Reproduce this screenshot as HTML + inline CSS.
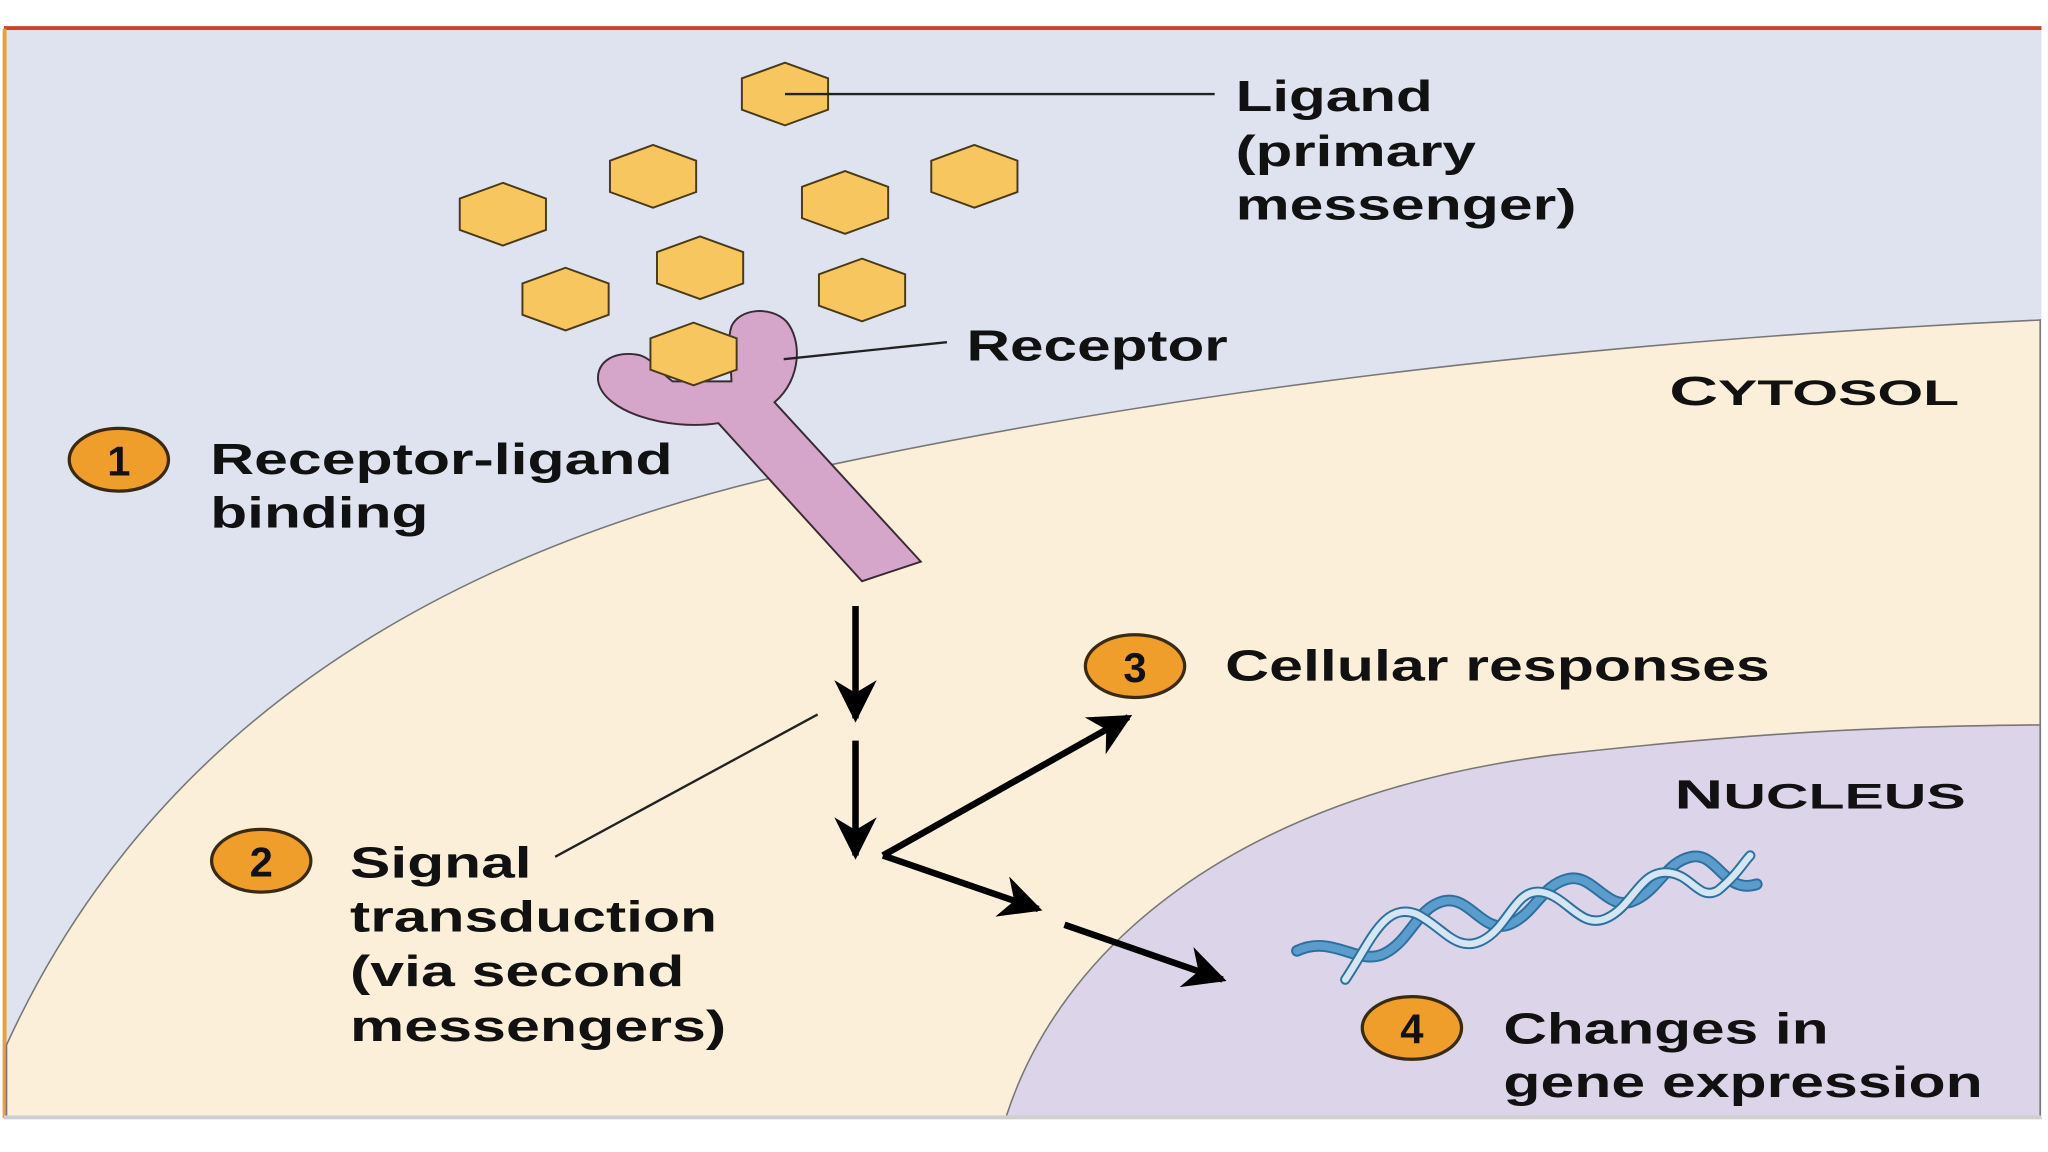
<!DOCTYPE html>
<html><head><meta charset="utf-8"><style>
html,body{margin:0;padding:0;background:#fff;}
svg{display:block;}
text{font-family:"Liberation Sans",Arial,sans-serif;font-weight:bold;fill:#111;}
</style></head><body>
<svg width="2048" height="1152" viewBox="0 0 1568 882" preserveAspectRatio="none" xmlns="http://www.w3.org/2000/svg">
<defs>
<marker id="ah" viewBox="0 0 10 10" refX="9" refY="5" markerWidth="6.5" markerHeight="6.5" orient="auto" markerUnits="strokeWidth">
<path d="M0,0 L10,5 L0,10 L3,5 z" fill="#000"/></marker>
<polygon id="hx" points="0,-24 33,-12 33,12 0,24 -33,12 -33,-12" fill="#f7c65e" stroke="#4a3a1a" stroke-width="1.5"/>
</defs>
<rect x="0" y="0" width="1568" height="882" fill="#fff"/>
<rect x="3" y="22" width="1560" height="834" fill="#dfe3f0"/>
<rect x="3" y="20" width="1560" height="3" fill="#c8442a"/>
<rect x="2" y="22" width="3" height="834" fill="#e6a23c"/>
<!-- cytosol -->
<path d="M5,800 C110,570 320,420 640,355 C900,300 1200,262 1562,245 L1562,856 L5,856 Z" fill="#fcefd9" stroke="#777" stroke-width="1.2"/>
<!-- nucleus -->
<path d="M770,856 C810,730 940,610 1190,578 C1350,560 1450,556 1562,555 L1562,856 Z" fill="#dcd4e8" stroke="#777" stroke-width="1.2"/>
<rect x="3" y="854" width="1560" height="3" fill="#cfcfcf"/>
<!-- hexagons -->
<use href="#hx" x="601" y="72"/>
<use href="#hx" x="500" y="135"/>
<use href="#hx" x="385" y="164"/>
<use href="#hx" x="647" y="155"/>
<use href="#hx" x="746" y="135"/>
<use href="#hx" x="536" y="205"/>
<use href="#hx" x="433" y="229"/>
<use href="#hx" x="660" y="222"/>
<line x1="601" y1="72" x2="930" y2="72" stroke="#222" stroke-width="1.8"/>
<!-- receptor -->
<path d="M550,324 C510,330 462,315 458,292 C456,276 472,268 490,272 C500,275 505,285 515,292 L560,292 C560,280 556,262 560,250 C566,236 590,234 602,246 C614,260 614,290 593,308 L705,430 L660,445 Z" fill="#d6a6ca" stroke="#3a2a35" stroke-width="1.5"/>
<use href="#hx" x="531" y="271"/>
<line x1="600" y1="275" x2="725" y2="262" stroke="#222" stroke-width="1.8"/>
<!-- arrows -->
<g stroke="#000" stroke-width="5" fill="none">
<line x1="655" y1="464" x2="655" y2="550" marker-end="url(#ah)"/>
<line x1="655" y1="567" x2="655" y2="655" marker-end="url(#ah)"/>
<line x1="676" y1="655" x2="864" y2="549" marker-end="url(#ah)"/>
<line x1="676" y1="655" x2="795" y2="696" marker-end="url(#ah)"/>
<line x1="815" y1="708" x2="936" y2="750" marker-end="url(#ah)"/>
</g>
<line x1="425" y1="656" x2="626" y2="547" stroke="#222" stroke-width="1.8"/>
<!-- DNA -->
<g fill="none" stroke-linecap="round">
<path d="M993,728 C1020,715 1040,740 1060,730 C1080,720 1085,695 1105,690 C1125,685 1135,715 1155,708 C1175,700 1180,678 1200,673 C1220,668 1230,698 1250,690 C1270,682 1275,660 1295,656 C1315,652 1320,685 1345,677" stroke="#2e6f9e" stroke-width="9"/>
<path d="M993,728 C1020,715 1040,740 1060,730 C1080,720 1085,695 1105,690 C1125,685 1135,715 1155,708 C1175,700 1180,678 1200,673 C1220,668 1230,698 1250,690 C1270,682 1275,660 1295,656 C1315,652 1320,685 1345,677" stroke="#5a9ccc" stroke-width="6"/>
<path d="M1030,750 C1050,720 1060,690 1085,700 C1105,710 1115,730 1135,720 C1155,710 1160,680 1180,683 C1200,686 1210,712 1230,703 C1250,694 1255,668 1275,668 C1295,668 1300,690 1315,682 C1330,670 1335,660 1340,655" stroke="#2e6f9e" stroke-width="8"/>
<path d="M1030,750 C1050,720 1060,690 1085,700 C1105,710 1115,730 1135,720 C1155,710 1160,680 1180,683 C1200,686 1210,712 1230,703 C1250,694 1255,668 1275,668 C1295,668 1300,690 1315,682 C1330,670 1335,660 1340,655" stroke="#d4e6f4" stroke-width="5"/>
</g>
<!-- numbered circles -->
<g fill="#ef9e2c" stroke="#3a2a10" stroke-width="2.5">
<ellipse cx="91" cy="352" rx="38" ry="24"/>
<ellipse cx="200" cy="659" rx="38" ry="24"/>
<ellipse cx="869" cy="510" rx="38" ry="24"/>
<ellipse cx="1081" cy="787" rx="38" ry="24"/>
</g>
<g font-size="32" text-anchor="middle">
<text x="91" y="364">1</text>
<text x="200" y="671">2</text>
<text x="869" y="522">3</text>
<text x="1081" y="799">4</text>
</g>
<!-- labels -->
<g font-size="33">
<text x="946" y="85" textLength="151" lengthAdjust="spacingAndGlyphs">Ligand</text>
<text x="946" y="127" textLength="184" lengthAdjust="spacingAndGlyphs">(primary</text>
<text x="946" y="168" textLength="261" lengthAdjust="spacingAndGlyphs">messenger)</text>
<text x="740" y="276" textLength="200" lengthAdjust="spacingAndGlyphs">Receptor</text>
<text x="161" y="363" textLength="354" lengthAdjust="spacingAndGlyphs">Receptor-ligand</text>
<text x="161" y="404" textLength="167" lengthAdjust="spacingAndGlyphs">binding</text>
<text x="268" y="672" textLength="139" lengthAdjust="spacingAndGlyphs">Signal</text>
<text x="268" y="713" textLength="281" lengthAdjust="spacingAndGlyphs">transduction</text>
<text x="268" y="755" textLength="256" lengthAdjust="spacingAndGlyphs">(via second</text>
<text x="268" y="797" textLength="288" lengthAdjust="spacingAndGlyphs">messengers)</text>
<text x="938" y="521" textLength="417" lengthAdjust="spacingAndGlyphs">Cellular responses</text>
<text x="1151" y="799" textLength="249" lengthAdjust="spacingAndGlyphs">Changes in</text>
<text x="1151" y="840" textLength="367" lengthAdjust="spacingAndGlyphs">gene expression</text>
<text x="1278" y="310" font-size="31" textLength="222" lengthAdjust="spacingAndGlyphs">C<tspan font-size="27">YTOSOL</tspan></text>
<text x="1282" y="619" font-size="31" textLength="223" lengthAdjust="spacingAndGlyphs">N<tspan font-size="27">UCLEUS</tspan></text>
</g>
</svg>
</body></html>
